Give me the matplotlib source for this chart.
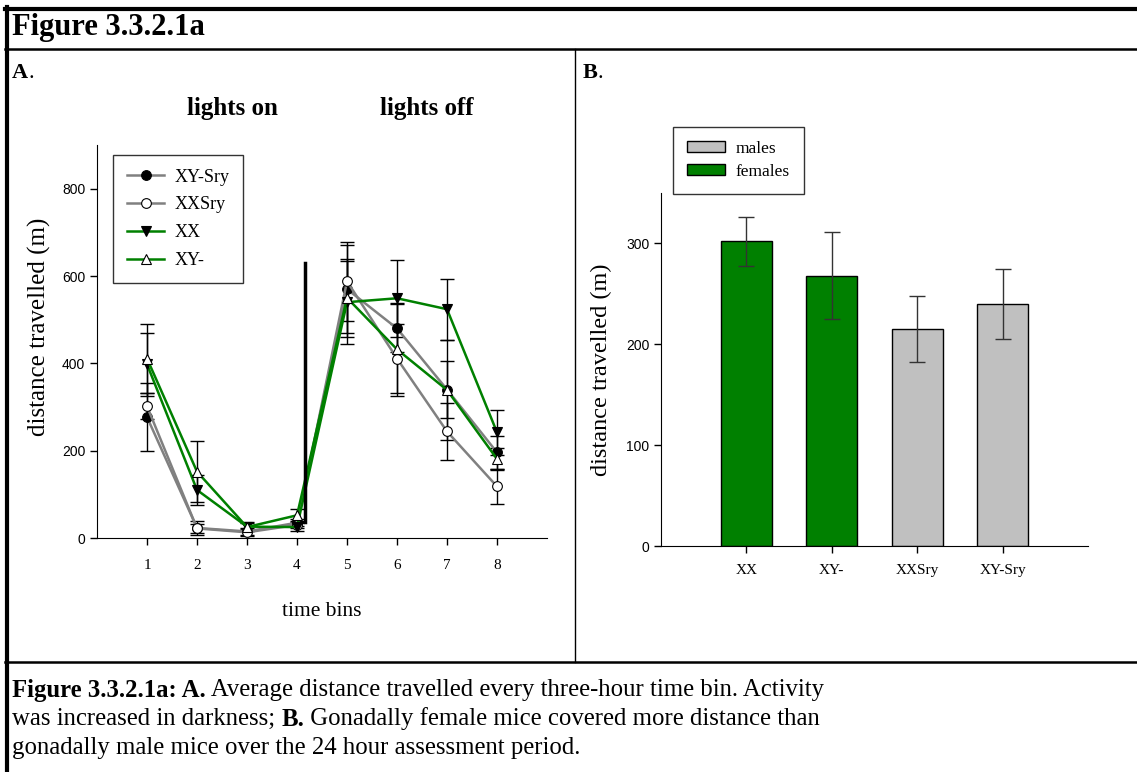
import matplotlib.pyplot as plt
from matplotlib.lines import Line2D
from matplotlib.patches import Patch
import numpy as np

# panel A: distance travelled per 3-hour bin
bins = [1, 2, 3, 4, 5, 6, 7, 8]
xysry = [277, 23, 15, 35, 570, 480, 340, 196]
xysry_err = [77, 15, 8, 8, 100, 55, 65, 38]
xxsry = [302, 22, 13, 30, 588, 411, 244, 118]
xxsry_err = [30, 10, 8, 8, 90, 80, 65, 40]
xx = [398, 110, 26, 25, 540, 549, 524, 242]
xx_err = [72, 35, 10, 10, 95, 88, 70, 52]
xym = [411, 152, 25, 52, 550, 432, 339, 181]
xym_err = [80, 70, 10, 15, 90, 107, 115, 25]

# panel B: total distance
groups = ['XX', 'XY-', 'XXSry', 'XY-Sry']
totals = [302, 268, 215, 240]
totals_err = [24, 43, 33, 35]
is_female = [True, True, False, False]

GREEN = '#008000'
GRAY = '#808080'
LGRAY = '#c0c0c0'
serif = 'Liberation Serif'
sans = 'Liberation Sans'
W, H = 1137, 772

fig = plt.figure(figsize=(W / 100, H / 100), dpi=100)
fig.canvas.draw()
renderer = fig.canvas.get_renderer()

def hline(y, x0, x1, lw):
    fig.add_artist(Line2D([x0 / W, x1 / W], [1 - y / H, 1 - y / H], color='black',
                          lw=lw, transform=fig.transFigure))

def vline(x, y0, y1, lw):
    fig.add_artist(Line2D([x / W, x / W], [1 - y0 / H, 1 - y1 / H], color='black',
                          lw=lw, transform=fig.transFigure))

def runs(x, y, pieces, size):
    # draw consecutive text runs with different weights on one line
    for txt, w in pieces:
        t = fig.text(x / W, 1 - y / H, txt, family=serif, weight=w,
                     fontsize=size, va='center', ha='left')
        x += t.get_window_extent(renderer).width

# frame
hline(9, 5, W, 3.0)
vline(7, 7, H, 3.0)
hline(49, 5, W, 1.8)
hline(662, 5, W, 1.8)
vline(575, 49, 662, 1.0)

fig.text(12 / W, 1 - 28 / H, 'Figure 3.3.2.1a', family=serif, weight='bold',
         fontsize=22, va='center', ha='left')
runs(12, 73, [('A', 'bold'), ('.', 'normal')], 16)
runs(583, 73, [('B', 'bold'), ('.', 'normal')], 16)

fig.text(232 / W, 1 - 109 / H, 'lights on', family=serif, weight='bold',
         fontsize=18, ha='center', va='center')
fig.text(427 / W, 1 - 109 / H, 'lights off', family=serif, weight='bold',
         fontsize=18, ha='center', va='center')

# caption
runs(12, 690, [('Figure 3.3.2.1a: A.', 'bold'),
               (' Average distance travelled every three-hour time bin. Activity', 'normal')], 17.8)
runs(12, 719, [('was increased in darkness; ', 'normal'), ('B.', 'bold'),
               (' Gonadally female mice covered more distance than', 'normal')], 17.8)
runs(12, 748, [('gonadally male mice over the 24 hour assessment period.', 'normal')], 17.8)

# ---- panel A
ax1 = fig.add_axes([97 / W, 1 - 538 / H, 450 / W, 393 / H])
series = [
    ('XY-Sry', xysry, xysry_err, GRAY, 'o', 'black'),
    ('XXSry', xxsry, xxsry_err, GRAY, 'o', 'white'),
    ('XX', xx, xx_err, GREEN, 'v', 'black'),
    ('XY-', xym, xym_err, GREEN, '^', 'white'),
]
for name, vals, err, col, mk, fc in series:
    ax1.errorbar(bins, vals, yerr=err, fmt='none', ecolor='black', elinewidth=1,
                 capsize=5, capthick=1, zorder=2)
for name, vals, err, col, mk, fc in series:
    ax1.plot(bins, vals, color=col, lw=1.8, marker=mk, markersize=7,
             markerfacecolor=fc, markeredgecolor='black', markeredgewidth=0.8,
             label=name, zorder=3)
ax1.plot([4.16, 4.16], [37, 630], color='black', lw=2.5, zorder=4)
ax1.set_xlim(0, 9)
ax1.set_ylim(0, 900)
ax1.set_xticks(bins)
ax1.set_yticks([0, 200, 400, 600, 800])
ax1.set_xticklabels([str(b) for b in bins], family=serif, fontsize=11)
ax1.set_yticklabels(['0', '200', '400', '600', '800'], family=sans, fontsize=10)
ax1.spines['top'].set_visible(False)
ax1.spines['right'].set_visible(False)
ax1.tick_params(direction='out', length=5, width=1)
ax1.tick_params(axis='x', pad=10)
ax1.set_xlabel('time bins', family=serif, fontsize=15.5, labelpad=22)
ax1.set_ylabel('distance travelled (m)', family=serif, fontsize=18)
ax1.yaxis.set_label_coords(-0.102, 0.537)
leg1 = ax1.legend(loc='upper left', bbox_to_anchor=(16 / 450, 1 - 10 / 393),
                  borderaxespad=0, frameon=True, fancybox=False, edgecolor='black',
                  prop={'family': serif, 'size': 13}, handlelength=2.1,
                  borderpad=0.75, labelspacing=0.6, handletextpad=0.55)
leg1.get_frame().set_linewidth(1)

# ---- panel B
ax2 = fig.add_axes([661 / W, 1 - 546 / H, 427 / W, 353 / H])
xpos_b = np.arange(1, len(groups) + 1)
colors = [GREEN if f else LGRAY for f in is_female]
ax2.bar(xpos_b, totals, width=0.6, color=colors, edgecolor='black', linewidth=1, zorder=2)
ax2.errorbar(xpos_b, totals, yerr=totals_err, fmt='none', ecolor='#333333',
             elinewidth=1, capsize=6, capthick=1, zorder=3)
ax2.set_xlim(0, 5)
ax2.set_ylim(0, 350)
ax2.set_xticks(xpos_b)
ax2.set_xticklabels(groups, family=serif, fontsize=11)
ax2.set_yticks([0, 100, 200, 300])
ax2.set_yticklabels(['0', '100', '200', '300'], family=sans, fontsize=10)
ax2.spines['top'].set_visible(False)
ax2.spines['right'].set_visible(False)
ax2.tick_params(direction='out', length=5, width=1)
ax2.tick_params(axis='x', pad=8)
ax2.set_ylabel('distance travelled (m)', family=serif, fontsize=17.5, labelpad=10)
handles = [Patch(facecolor=LGRAY, edgecolor='black', label='males'),
           Patch(facecolor=GREEN, edgecolor='black', label='females')]
leg2 = fig.legend(handles=handles, loc='upper left',
                  bbox_to_anchor=(673 / W, 1 - 127 / H), borderaxespad=0, frameon=True,
                  fancybox=False, edgecolor='black', prop={'family': serif, 'size': 12.5},
                  handlelength=2.2, handleheight=0.6, borderpad=0.8, labelspacing=0.4,
                  handletextpad=0.6)
leg2.get_frame().set_linewidth(1)

fig.savefig('out.png', dpi=100)
